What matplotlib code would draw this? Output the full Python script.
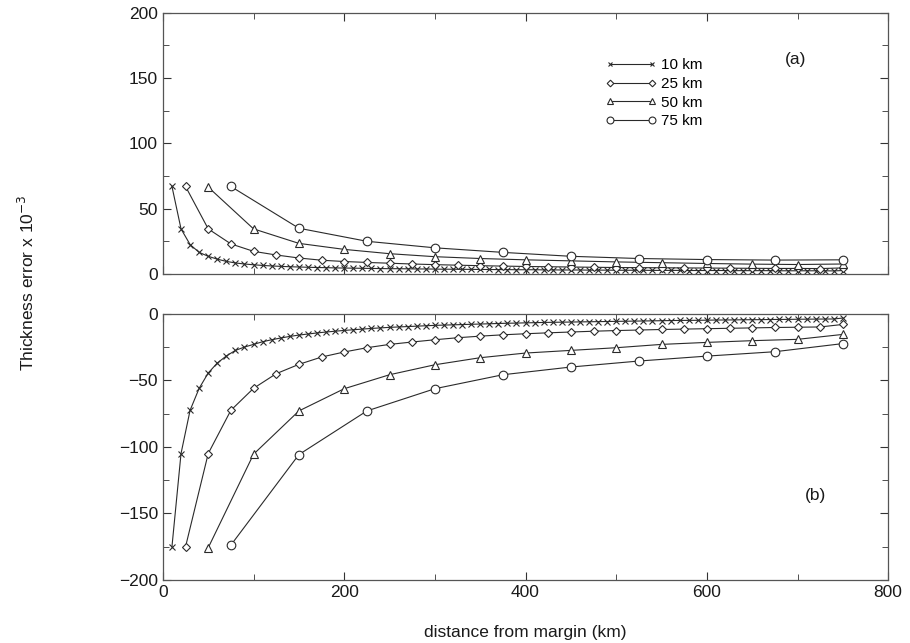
import numpy as np
import matplotlib
matplotlib.use("Agg")
import matplotlib.pyplot as plt
from matplotlib.ticker import MultipleLocator

plt.rcParams['font.family'] = ['Liberation Sans', 'DejaVu Sans']

labels = ["10 km", "25 km", "50 km", "75 km"]
spacing = [10, 25, 50, 75]
max_dist = 750
markers = ["x", "D", "^", "o"]
msizes = [4.0, 4.2, 5.8, 6.2]

top_10 = [67, 34.5, 22.5, 16.5, 13.5, 11.3, 9.6, 8.4, 7.6, 7.0,
          6.5, 6.1, 5.8, 5.5, 5.3, 5.1, 4.9, 4.8, 4.6, 4.5,
          4.4, 4.3, 4.2, 4.1, 4.0, 4.0, 3.9, 3.8, 3.8, 3.7,
          3.6, 3.6, 3.5, 3.5, 3.4, 3.4, 3.3, 3.3, 3.2, 3.2,
          3.2, 3.1, 3.1, 3.0, 3.0, 3.0, 2.9, 2.9, 2.9, 2.8,
          2.8, 2.8, 2.8, 2.7, 2.7, 2.7, 2.7, 2.6, 2.6, 2.6,
          2.6, 2.6, 2.5, 2.5, 2.5, 2.5, 2.5, 2.4, 2.4, 2.4,
          2.4, 2.4, 2.4, 2.3, 2.6]
top_25 = [67, 34.5, 23, 17.3, 14.5, 12.2, 10.5, 9.5, 8.8, 8.2,
          7.6, 7.1, 6.7, 6.3, 6.0, 5.7, 5.5, 5.3, 5.1, 4.9,
          4.8, 4.7, 4.6, 4.5, 4.4, 4.3, 4.2, 4.2, 4.1, 4.6]
top_50 = [66.5, 34.5, 23.4, 18.8, 15.5, 13.2, 11.8, 10.8, 10.0, 9.2,
          8.6, 8.0, 7.5, 7.2, 7.6]
top_75 = [67, 35, 25, 20, 16.5, 13.5, 11.8, 11.0, 10.6, 10.8]

bot_10 = [-175, -105, -72.5, -56, -44.5, -37, -31.7, -27.5, -25, -23,
          -21, -19.5, -18.2, -17, -16, -15.2, -14.4, -13.7, -13.1, -12.5,
          -12, -11.5, -11, -10.6, -10.2, -9.9, -9.6, -9.3, -9, -8.7,
          -8.5, -8.3, -8.1, -7.9, -7.7, -7.5, -7.3, -7.1, -7, -6.8,
          -6.7, -6.5, -6.4, -6.3, -6.2, -6.1, -6, -5.9, -5.8, -5.7,
          -5.6, -5.5, -5.4, -5.3, -5.2, -5.1, -5, -4.95, -4.9, -4.8,
          -4.7, -4.65, -4.6, -4.5, -4.45, -4.4, -4.3, -4.25, -4.2, -4.1,
          -4.05, -4, -3.95, -3.9, -3.2]
bot_25 = [-175, -105, -72.5, -56, -45, -38, -32.5, -28.7, -25.5, -23,
          -21.2, -19.5, -18, -16.8, -15.8, -15, -14.3, -13.7, -13.1, -12.6,
          -12.2, -11.8, -11.5, -11.2, -10.9, -10.6, -10.3, -10.1, -9.9, -8]
bot_50 = [-175.8, -105.5, -73, -56.3, -45.8, -38.3, -33, -29.5, -27.5, -25.5,
          -23, -21.5, -20.2, -19.2, -15.5]
bot_75 = [-173.8, -105.8, -73, -56.3, -45.8, -40, -35.5, -31.8, -28.5, -22.4]

top_series = [top_10, top_25, top_50, top_75]
bot_series = [bot_10, bot_25, bot_50, bot_75]

fig = plt.figure(figsize=(9.1, 6.43), dpi=100)
ax1 = fig.add_axes([0.179, 0.574, 0.797, 0.406])
ax2 = fig.add_axes([0.179, 0.098, 0.797, 0.414])

lc = "#2a2a2a"
for i in range(4):
    xs = np.arange(spacing[i], max_dist + 1, spacing[i])
    for ax, data in ((ax1, top_series[i]), (ax2, bot_series[i])):
        ax.plot(xs, data, color=lc, lw=0.8, marker=markers[i], ms=msizes[i],
                mfc="white" if markers[i] != "x" else lc, mec=lc, mew=0.8,
                label=labels[i])

for ax in (ax1, ax2):
    ax.set_xlim(0, 800)
    ax.xaxis.set_major_locator(MultipleLocator(200))
    ax.xaxis.set_minor_locator(MultipleLocator(100))
    ax.yaxis.set_major_locator(MultipleLocator(50))
    ax.yaxis.set_minor_locator(MultipleLocator(25))
    ax.tick_params(which="both", direction="in", top=True, right=True,
                   labelsize=12.5, colors="#333333", labelcolor="#1a1a1a")
    ax.tick_params(which="major", length=6)
    ax.tick_params(which="minor", length=4)
    for s in ax.spines.values():
        s.set_color("#555555")
        s.set_linewidth(0.9)

ax1.set_ylim(0, 200)
ax1.tick_params(labelbottom=False)
ax2.set_ylim(-200, 0)

leg = ax1.legend(loc="upper left", bbox_to_anchor=(0.6, 0.855), frameon=False,
                 numpoints=2, handlelength=3.3, fontsize=11,
                 labelspacing=0.3, handletextpad=0.35, borderpad=0,
                 markerscale=0.8)

ax1.text(0.872, 0.82, "(a)", transform=ax1.transAxes, fontsize=12.5,
         ha="center", va="center", color="#1a1a1a")
ax2.text(0.9, 0.316, "(b)", transform=ax2.transAxes, fontsize=12.5,
         ha="center", va="center", color="#1a1a1a")

fig.text(0.03, 0.56, "Thickness error x 10$^{-3}$", rotation=90,
         ha="center", va="center", fontsize=12.5, color="#1a1a1a")
fig.text(0.577, 0.017, "distance from margin (km)", ha="center", va="center",
         fontsize=12.5, color="#1a1a1a")

fig.savefig("out.png", dpi=100, facecolor="white")
